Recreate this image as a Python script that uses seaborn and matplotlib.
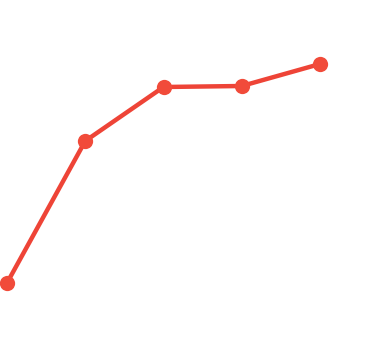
import matplotlib
matplotlib.use("Agg")
import matplotlib.pyplot as plt
import seaborn as sns
import pandas as pd

x_vals = [0, 1, 2, 3, 4]
y_vals = [13.2, 41.6, 52.4, 52.6, 57.0]

df = pd.DataFrame({"x": x_vals, "y": y_vals})

sns.set_style("white")
fig = plt.figure(figsize=(3.67, 3.49), dpi=100)
ax = fig.add_axes([0, 0, 1, 1])
sns.lineplot(data=df, x="x", y="y", ax=ax, color="#ee4437", linewidth=3.2,
             marker="o", markersize=11, markeredgewidth=0, markerfacecolor="#f14b3a")
ax.set_xlim(-7 / 78.25, 360 / 78.25)
ax.set_ylim(0, 69.8)
ax.axis("off")
fig.savefig("out.png", dpi=100, facecolor="white")
